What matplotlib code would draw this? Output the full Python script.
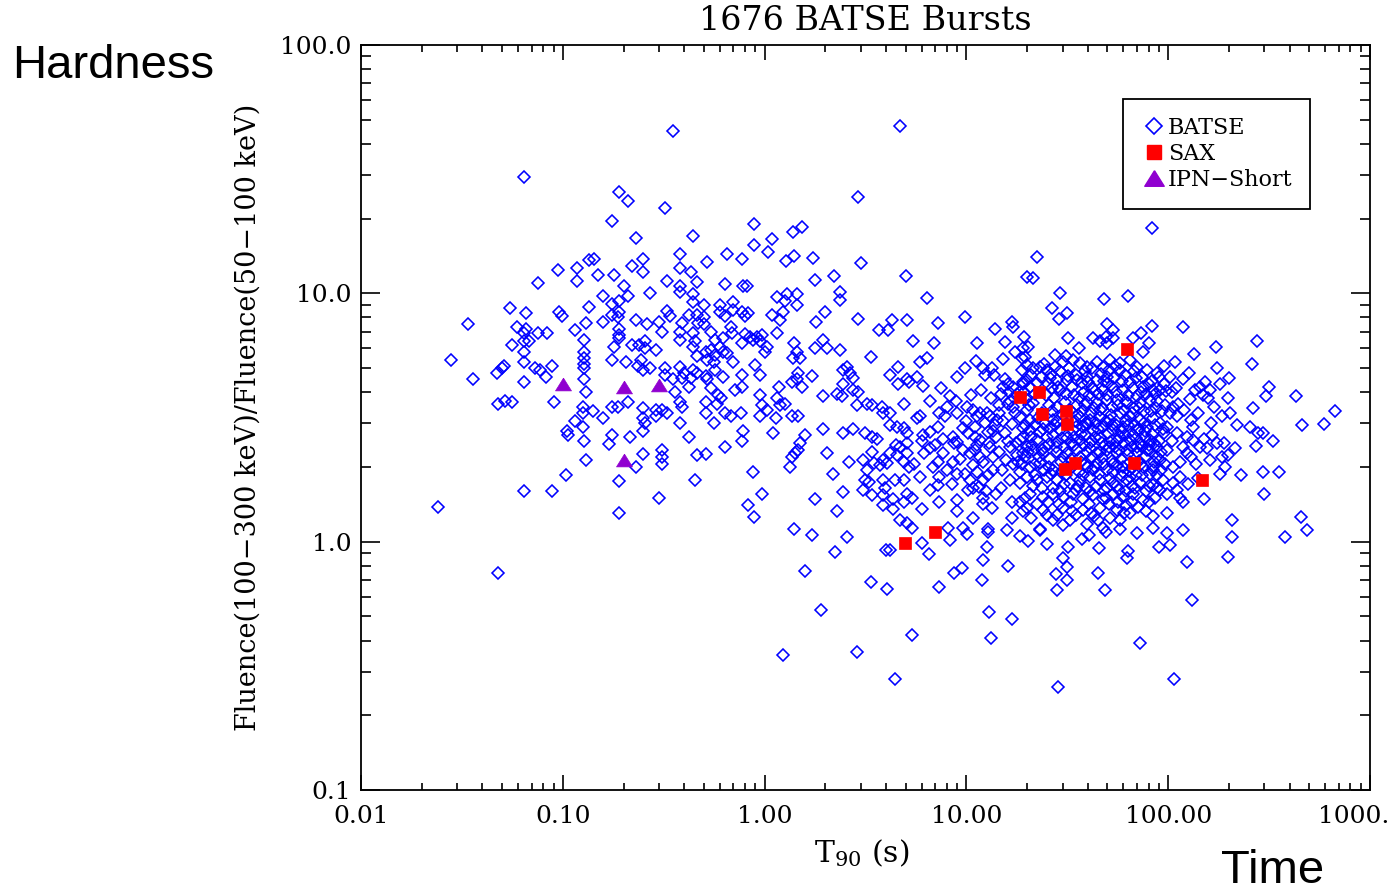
import matplotlib
matplotlib.use("Agg")
import matplotlib.pyplot as plt
from matplotlib.lines import Line2D
from matplotlib.ticker import NullFormatter

# ---------------- data (T90 [s], hardness ratio) ----------------
batse_top = [
    (0.35,45),(0.064,29.5),(0.19,25.6),(0.21,23.5),(0.32,22),(0.175,19.5),(0.23,16.7),(0.44,17),(0.38,14.4),(0.25,13.7),
    (0.135,13.6),(0.143,13.7),(0.095,12.4),(0.118,12.6),(0.22,12.9),(0.38,12.7),(0.25,12.2),(0.43,12.2),(0.15,11.8),(0.18,11.9),
    (0.075,11.0),(0.118,11.2),(0.33,11.2),(0.46,11.1),(0.2,10.7),(0.38,10.7),(4.7,47),(2.9,24.5),(0.89,19),(1.38,17.7),
    (1.53,18.5),(0.89,15.6),(1.09,16.5),(0.65,14.4),(0.77,13.7),(1.04,14.7),(0.52,13.4),(1.28,13.5),(1.40,14.2),(1.74,13.9),
    (3.0,13.2),(0.64,10.9),(0.78,10.7),(0.82,10.7),(1.78,11.3),(2.2,11.7),(5.0,11.7),(20,11.6),(83,18.3),(22.4,14.0),
    (21.4,11.5),
]
batse_short = [
    (0.38,10.1),(0.158,9.8),(0.21,9.8),(0.27,10.0),(0.44,9.9),(0.44,9.2),(0.175,9.1),(0.19,9.3),(0.135,8.8),(0.055,8.7),
    (0.066,8.3),(0.096,8.4),(0.099,8.1),(0.33,8.5),(0.34,8.1),(0.175,8.2),(0.188,8.0),(0.19,8.4),(0.034,7.5),(0.13,7.6),
    (0.158,7.7),(0.23,7.8),(0.26,7.5),(0.30,7.7),(0.39,7.6),(0.42,8.2),(0.059,7.3),(0.066,7.2),(0.064,6.9),(0.075,6.9),
    (0.084,6.9),(0.115,7.1),(0.19,7.2),(0.19,6.8),(0.31,7.0),(0.38,7.0),(0.38,6.5),(0.44,6.9),(0.45,6.4),(0.064,6.4),
    (0.068,6.4),(0.127,6.5),(0.19,6.6),(0.056,6.2),(0.18,6.1),(0.22,6.2),(0.24,6.2),(0.255,6.4),(0.255,6.0),(0.29,5.9),
    (0.44,6.1),(0.46,5.6),(0.064,5.8),(0.127,5.8),(0.127,5.5),(0.127,5.2),(0.127,5.0),(0.028,5.4),(0.175,5.4),(0.205,5.3),
    (0.245,5.4),(0.235,5.1),(0.25,4.9),(0.064,5.3),(0.051,5.1),(0.050,5.0),(0.047,4.8),(0.073,5.0),(0.077,4.9),(0.088,5.1),
    (0.27,5.0),(0.32,5.0),(0.38,5.05),(0.40,4.8),(0.44,4.9),(0.036,4.5),(0.083,4.6),(0.127,4.5),(0.32,4.7),(0.35,4.5),
    (0.39,4.55),(0.43,4.55),(0.064,4.4),(0.13,4.0),(0.36,4.0),(0.42,4.2),(0.048,3.6),(0.052,3.7),(0.056,3.65),(0.090,3.65),
    (0.21,3.65),(0.38,3.65),(0.39,3.5),(0.126,3.5),(0.126,3.3),(0.141,3.35),(0.175,3.5),(0.188,3.5),(0.25,3.45),(0.29,3.4),
    (0.31,3.4),(0.33,3.3),(0.158,3.15),(0.115,3.05),(0.25,3.15),(0.255,3.0),(0.25,2.8),(0.29,3.2),(0.38,3.0),(0.105,2.8),
    (0.106,2.7),(0.126,2.9),(0.175,2.7),(0.215,2.65),(0.42,2.65),(0.127,2.55),(0.17,2.47),(0.31,2.35),(0.31,2.2),(0.31,2.05),
    (0.25,2.25),(0.13,2.13),(0.23,2.0),(0.46,2.23),(0.104,1.85),(0.45,1.78),(0.19,1.75),(0.064,1.6),(0.088,1.6),(0.30,1.5),
    (0.024,1.38),(0.19,1.3),(0.048,0.75),
]
batse_mid = [
    (0.50,9.0),(0.60,9.0),(0.60,8.4),(0.64,8.1),(0.70,9.2),(0.70,8.6),(0.77,8.4),(0.80,8.1),(0.83,8.3),(1.15,9.7),
    (1.29,9.9),(1.26,9.3),(1.45,9.9),(1.45,9.0),(1.09,8.2),(1.23,8.4),(1.19,7.8),(2.37,10.1),(2.37,9.4),(2.0,8.4),
    (1.8,7.7),(2.9,7.9),(4.3,7.8),(5.1,7.8),(6.4,9.6),(7.2,7.6),(9.8,8.0),(16.9,7.7),(17.1,7.3),(13.9,7.2),
    (3.7,7.1),(4.1,7.1),(0.46,8.2),(0.50,8.0),(0.47,7.6),(0.50,7.5),(0.54,7.0),(0.68,7.3),(0.69,6.9),(0.80,6.85),
    (0.85,6.7),(0.92,6.7),(0.97,6.8),(0.95,6.4),(0.62,6.6),(0.57,6.5),(1.15,6.9),(0.77,6.3),(0.88,6.5),(1.03,6.1),
    (1.0,5.8),(0.51,5.8),(0.54,5.9),(0.57,5.65),(0.60,6.1),(0.62,5.8),(0.65,5.75),(1.40,6.3),(1.45,5.8),(1.38,5.5),
    (1.50,5.5),(1.78,6.0),(1.95,6.5),(2.04,6.0),(2.37,5.9),(5.45,6.45),(6.9,6.3),(11.3,6.3),(15.6,6.35),(17.4,5.8),
    (19.1,6.0),(3.37,5.55),(5.9,5.3),(6.4,5.5),(11.2,5.35),(15.2,5.45),(18.9,5.5),(20.0,5.15),(0.46,4.8),(0.52,5.4),
    (0.56,5.3),(0.57,4.9),(0.70,5.3),(0.90,5.15),(0.95,4.7),(0.62,4.6),(0.51,4.65),(0.52,4.5),(0.77,4.7),(1.47,4.8),
    (1.45,4.5),(1.37,4.4),(1.53,4.2),(1.18,4.2),(1.72,4.65),(2.45,4.9),(2.56,5.05),(2.65,4.8),(2.75,4.55),(2.45,4.3),
    (4.2,4.7),(4.6,5.05),(4.6,4.3),(5.1,4.5),(5.2,4.4),(5.7,4.6),(6.1,4.25),(7.5,4.15),(9.0,4.6),(9.8,5.0),
    (12.1,5.0),(12.4,4.7),(13.4,5.0),(13.7,4.7),(15.6,4.5),(16.1,4.3),(17.1,4.2),(19.1,4.4),(15.2,4.2),(0.71,4.1),
    (0.77,4.2),(0.54,4.15),(0.59,3.9),(0.61,3.8),(0.58,3.6),(0.51,3.65),(0.95,3.9),(0.97,3.55),(1.15,3.8),(1.19,3.55),
    (1.26,3.6),(1.03,3.4),(1.95,3.85),(2.29,3.95),(2.43,3.85),(2.75,4.1),(2.9,4.0),(2.86,3.55),(3.2,3.6),(3.4,3.55),
    (4.9,3.6),(6.6,3.7),(8.3,3.85),(8.9,3.7),(8.0,3.5),(3.8,3.5),(3.85,3.3),(4.2,3.3),(5.9,3.2),(5.7,3.15),
    (7.3,3.3),(7.8,3.2),(9.0,3.3),(10.1,3.5),(10.8,3.4),(11.3,3.2),(11.7,3.3),(12.7,3.3),(13.1,3.2),(14.2,3.1),
    (14.5,3.3),(0.51,3.3),(0.56,3.0),(0.64,3.3),(0.68,3.2),(0.76,3.3),(0.95,3.2),(1.14,3.15),(1.37,3.2),(1.47,3.2),
    (1.95,2.85),(0.78,2.8),(1.10,2.75),(0.77,2.55),(0.64,2.4),(0.51,2.25),(2.45,2.75),(2.75,2.85),(3.15,2.75),(3.4,2.65),
    (3.6,2.6),(4.2,2.95),(4.55,2.9),(4.9,2.87),(5.1,2.74),(6.1,2.68),(6.6,2.76),(7.2,2.9),(7.7,2.6),(8.6,2.64),
    (8.7,2.5),(9.6,2.87),(10.2,2.74),(11.0,2.64),(11.7,2.56),(12.8,2.76),(13.5,2.8),(14.1,2.64),(15.6,2.74),(19.1,2.87),
    (18.4,2.56),(20.0,2.4),(1.59,2.7),(1.50,2.5),(1.47,2.33),(1.42,2.27),(1.37,2.19),(1.34,2.0),(2.04,2.27),(2.62,2.1),
    (3.08,2.13),(3.22,1.94),(3.15,1.77),(3.4,2.29),(3.5,2.07),(3.73,2.03),(3.85,2.13),(4.05,2.07),(4.2,2.27),(4.55,2.23),
    (4.7,2.4),(5.1,2.5),(4.9,2.09),(5.1,2.27),(5.2,1.99),(6.2,2.27),(6.6,2.38),(7.2,2.09),(7.0,2.45),(7.7,2.27),
    (8.6,2.09),(9.0,2.52),(9.6,2.33),(10.4,2.27),(11.3,2.45),(11.7,2.19),(12.1,2.09),(10.8,2.03),(13.1,2.4),(13.5,2.19),
    (14.5,2.29),(15.8,2.13),(16.4,2.4),(17.8,2.23),(19.1,2.27),(0.88,1.9),(2.18,1.88),(3.3,1.74),(3.85,1.77),(3.95,1.64),
    (4.45,1.77),(4.9,1.77),(5.9,1.82),(7.3,1.82),(9.0,1.88),(9.85,1.88),(10.4,1.77),(11.3,1.9),(12.1,1.77),(13.5,1.94),
    (14.9,1.65),(16.4,1.77),(18.4,1.72),(0.97,1.56),(2.45,1.59),(3.08,1.61),(3.4,1.54),(3.85,1.54),(4.35,1.49),(4.9,1.44),
    (5.1,1.56),(5.35,1.5),(6.6,1.62),(7.2,1.69),(9.0,1.47),(10.2,1.61),(10.8,1.65),(11.5,1.66),(12.1,1.5),(13.4,1.37),
    (16.9,1.44),(18.4,1.44),(19.1,1.33),(0.83,1.41),(0.89,1.26),(1.78,1.48),(2.29,1.33),(3.85,1.4),(4.35,1.35),(6.0,1.36),
    (7.3,1.44),(9.0,1.33),(10.8,1.25),(12.1,1.42),(4.7,1.22),(5.1,1.19),(5.35,1.14),(8.1,1.14),(9.6,1.14),(12.8,1.12),
    (15.9,1.11),(16.9,1.25),(1.40,1.13),(1.72,1.06),
    (10.5,3.9),(11.8,4.1),(13.2,3.8),(14.8,3.95),(16.5,3.7),(17.8,3.95),(10.0,3.05),(11.0,2.9),(12.3,3.0),(13.9,2.95),
    (15.2,3.05),(16.8,2.98),(17.5,3.3),(16.0,3.6),(18.0,2.1),(15.0,1.95),(12.8,1.85),(11.0,2.35),(9.3,2.15),(8.0,1.95),
    (6.8,2.0),(6.0,2.55),(5.5,2.05),(4.5,2.45),(16.0,2.55),(17.0,2.05),(18.5,1.9),(14.0,1.55),(12.5,1.6),(8.5,1.7),
]
batse_long = [
    (29,10.0),(48,9.5),(63,9.8),(26.6,8.7),(28.8,7.9),(31.6,8.3),(50,7.5),(53,7.1),(49,6.7),(83,7.4),
    (119,7.3),(73,6.9),(67,6.6),(42.5,6.6),(46,6.4),(50,6.3),(53,6.6),(32,6.6),(19.4,6.7),(20.2,6.1),
    (36,6.05),(80,6.3),(75,5.8),(27.5,5.65),(31,5.6),(135,5.7),(173,6.1),(276,6.4),(261,5.2),(175,5.0),
    (200,4.55),(317,4.2),(306,3.85),(431,3.85),(264,3.45),(670,3.35),(460,2.95),(590,2.98),(220,2.95),(255,2.9),
    (279,2.74),(295,2.74),(332,2.54),(273,2.42),(189,2.49),(215,2.38),(185,2.19),(198,2.23),(161,2.13),(192,1.99),
    (181,1.88),(230,1.85),(295,1.9),(355,1.9),(300,1.56),(151,1.48),(456,1.26),(488,1.11),(207,1.22),(207,1.04),
    (380,1.04),(109,4.15),(136,4.1),(144,4.2),(149,3.9),(153,4.4),(161,4.1),(158,3.8),(181,4.3),(198,3.8),
    (169,3.5),(185,3.2),(203,3.3),(163,3.0),(129,3.1),(133,2.9),(102,3.3),(106,3.5),(111,3.2),(99,2.9),
    (111,2.74),(124,2.64),(133,2.56),(144,2.4),(156,2.38),(124,2.27),(115,2.09),(106,1.99),(99,2.33),(91,2.13),
    (84,1.94),(115,1.82),(106,1.72),(94,1.77),(88,1.65),(99,1.56),(115,1.5),(119,1.44),(99,1.3),(84,1.27),
    (78,1.33),(84,1.14),(99,1.08),(70,1.08),(58,1.13),
    (105,4.0),(112,3.6),(120,3.4),(128,3.75),(140,3.3),(104,2.55),(118,2.4),(130,2.2),(138,2.05),(110,1.62),
    (125,1.7),(140,1.8),(150,2.6),(165,2.7),(175,2.5),(102,4.6),(118,4.5),(127,4.8),(95,5.1),(108,5.3),
]
batse_core = [
    (19.6,5.56),(21.4,5.0),(23.2,5.06),(25.1,4.92),(27.5,5.06),(30.2,5.31),(33.8,5.4),(36.6,5.26),(39.7,5.06),(44.5,5.31),
    (47.6,5.06),(51.6,5.4),(57.8,5.26),(64.8,5.4),(70.2,5.06),(78.7,4.92),(88.2,4.79),(57.8,4.92),(49.9,4.61),(44.5,4.48),
    (39.7,4.61),(35.4,4.48),(31.6,4.48),(28.2,4.48),(26.0,4.57),(20.0,4.48),(20.7,4.2),(26.6,4.16),(29.2,4.08),(37.9,3.97),
    (42,4.16),(47.6,4.08),(53.4,4.2),(59.8,4.08),(67.1,4.16),(75.2,4.2),(84.2,4.08),(91.3,4.08),(81.4,3.72),(72.6,3.62),
    (62.6,3.62),(55.9,3.72),(49.9,3.72),(44.5,3.62),(39.7,3.65),(35.4,3.55),(28.2,3.49),(21.4,3.62),(20.0,3.39),(18.5,3.18),
    (20.7,3.09),(26.9,3.09),(36.6,3.18),(41.1,3.09),(46.0,3.18),(51.6,3.09),(57.8,3.30),(64.8,3.18),(72.6,3.09),(84.2,3.15),
    (91.3,3.0),(78.7,2.89),(70.2,2.81),(59.8,2.89),(53.4,2.81),(47.6,2.89),(42.5,2.81),(37.9,2.89),(33.8,2.81),(29.2,2.81),
    (26.0,2.87),(23.2,2.76),(20.7,2.81),(19.1,2.64),(22.4,2.56),(25.1,2.64),(28.2,2.52),(31.6,2.61),(36.6,2.56),(41.1,2.49),
    (46.0,2.61),(51.6,2.52),(57.8,2.64),(64.8,2.56),(72.6,2.49),(81.4,2.56),(88.2,2.40),(78.7,2.33),(70.2,2.29),(62.6,2.33),
    (55.9,2.27),(49.9,2.33),(44.5,2.27),(39.7,2.29),(35.4,2.33),(31.6,2.27),(28.2,2.29),(24.0,2.27),(21.4,2.33),(19.6,2.19),
    (20.7,1.99),(23.2,2.07),(26.9,1.94),(39.7,1.99),(44.5,2.07),(49.9,1.94),(55.9,2.03),(59.8,1.90),(75.2,1.99),(81.4,1.88),
    (20.0,1.82),(22.4,1.77),(25.1,1.82),(28.2,1.77),(32.7,1.72),(36.6,1.77),(41.1,1.82),(46.0,1.77),(53.4,1.72),(62.6,1.77),
    (72.6,1.72),(84.2,1.69),(20.7,1.56),(24.0,1.51),(26.9,1.56),(30.2,1.51),(33.8,1.56),(37.9,1.49),(42.5,1.54),(47.6,1.49),
    (53.4,1.56),(59.8,1.51),(67.1,1.56),(75.2,1.47),(20.0,1.37),(24.0,1.34),(30.2,1.37),(37.9,1.34),(46.0,1.37),(55.9,1.34),
    (64.8,1.30),(26.9,1.22),(32.7,1.22),(39.7,1.18),(47.6,1.14),(23.2,1.13),
    (18.8,4.9),(21.0,4.7),(24.2,5.2),(26.3,4.75),(29.0,4.85),(32.2,5.0),(34.9,4.7),(38.5,4.85),(41.8,5.0),(46.2,4.75),
    (50.8,4.9),(54.6,5.1),(61.0,4.7),(67.5,4.85),(74.0,4.6),(83.0,4.45),(95.0,4.3),(19.2,4.0),(22.5,4.35),(24.8,3.9),
    (27.2,3.8),(31.0,3.95),(33.5,4.2),(36.0,3.8),(40.5,3.9),(45.0,3.95),(50.5,4.35),(55.0,4.0),(63.5,3.9),(70.0,3.85),
    (78.0,3.95),(88.0,3.7),(96.0,3.55),(19.8,3.75),(23.8,3.3),(25.8,3.55),(30.0,3.25),(32.8,3.4),(37.2,3.35),(42.8,3.45),
    (47.0,3.45),(52.8,3.5),(60.5,3.4),(68.0,3.45),(76.0,3.35),(87.0,3.45),(22.0,2.95),(24.6,3.0),(28.0,3.05),(31.4,2.98),
    (34.5,3.05),(39.0,3.0),(44.0,3.0),(49.0,3.05),(55.0,2.95),(62.0,3.05),(68.5,2.95),(75.5,3.0),(95.0,2.75),(21.2,2.45),
    (24.5,2.4),(27.0,2.7),(30.5,2.4),(34.0,2.65),(38.5,2.7),(43.5,2.65),(48.5,2.45),(54.5,2.4),(60.5,2.5),(67.0,2.7),
    (76.5,2.65),(85.5,2.5),(92.0,2.3),(22.8,2.2),(26.0,2.15),(29.5,2.1),(33.0,2.15),(37.0,2.1),(42.0,2.2),(47.2,2.17),
    (52.5,2.12),(58.5,2.15),(65.0,2.1),(72.0,2.12),(85.0,2.1),(18.8,2.05),(24.3,1.95),(29.8,1.92),(33.5,2.0),(36.0,1.9),
    (42.5,1.94),(53.0,1.9),(64.0,1.93),(69.0,1.85),(88.0,1.85),(21.5,1.67),(26.8,1.65),(30.5,1.7),(34.8,1.62),(39.0,1.64),
    (44.0,1.66),(50.0,1.65),(57.0,1.62),(66.0,1.68),(78.0,1.6),(22.3,1.42),(25.5,1.45),(28.8,1.42),(33.0,1.44),(40.5,1.42),
    (51.0,1.42),(62.0,1.4),(71.0,1.38),(28.0,1.28),(35.0,1.28),(43.0,1.27),(51.5,1.25),(58.0,1.22),(30.0,1.17),(21.0,1.25),
]
batse_core_extra = [
    (19.0,4.3),(20.5,3.55),(22.0,3.95),(23.5,4.6),(25.5,4.3),(26.5,3.35),(28.5,4.2),(30.8,3.65),(32.0,4.65),(34.2,3.9),
    (35.8,3.25),(37.5,4.35),(38.8,3.55),(40.0,4.4),(41.5,3.3),(43.2,4.05),(45.8,3.4),(48.2,4.45),(50.0,3.9),(52.0,3.25),
    (54.0,4.55),(56.5,3.55),(58.8,4.45),(61.5,3.7),(64.5,4.4),(66.0,3.3),(69.0,4.55),(71.5,3.45),(73.5,4.0),(80.0,4.3),
    (82.5,3.35),(86.0,3.95),(90.0,4.6),(93.0,3.35),(98.0,4.05),(19.5,2.95),(21.0,2.65),(22.6,3.15),(24.0,2.85),(25.8,2.48),
    (27.5,2.95),(29.8,2.62),(31.0,3.15),(33.0,2.5),(35.0,2.9),(36.8,2.72),(38.2,2.45),(40.2,2.98),(42.0,2.55),(45.0,2.85),
    (47.0,2.5),(50.2,2.75),(52.5,2.95),(56.0,2.55),(58.5,2.8),(61.0,2.68),(63.5,2.95),(66.5,2.4),(69.0,2.62),(71.5,2.85),
    (74.0,2.4),(77.0,2.8),(80.0,2.45),(83.0,2.72),(86.5,2.95),(90.5,2.55),(94.0,2.85),(20.2,2.3),(22.0,2.05),(23.8,2.35),
    (25.8,2.0),(27.8,2.4),(30.0,2.2),(32.0,1.98),(34.2,2.45),(36.5,2.2),(38.8,2.05),(41.0,2.38),(43.5,2.0),(46.0,2.3),
    (48.0,2.05),(51.0,2.4),(53.5,2.05),(57.0,2.35),(60.0,2.0),(63.0,2.25),(66.5,1.98),(70.0,2.4),(73.5,2.05),(77.0,2.2),
    (80.5,2.35),(84.0,2.0),(88.0,2.2),(92.5,1.95),(96.0,2.05),(21.8,1.85),(23.8,1.65),(26.2,1.88),(29.0,1.6),(31.2,1.85),
    (35.8,1.68),(38.0,1.85),(40.8,1.6),(45.2,1.88),(48.2,1.62),(51.5,1.8),(55.5,1.67),(59.0,1.84),(61.5,1.6),(65.0,1.82),
    (68.5,1.64),(74.5,1.85),(80.5,1.68),(91.0,1.62),(25.0,1.28),(33.5,1.33),(41.5,1.3),(49.0,1.5),(56.5,1.45),(66.0,1.44),
    (80.0,1.45),(86.5,1.5),(60.5,1.3),(45.0,1.22),(19.5,1.5),(17.6,2.5),(17.0,3.5),(16.2,4.0),(14.5,3.55),(13.0,2.5),
]
batse_soft = [
    (2.56,1.04),(2.24,0.91),(4.2,0.93),(4.0,0.93),(6.0,0.99),(6.5,0.89),(8.3,1.02),(10.1,1.07),(12.8,1.09),(18.5,1.05),
    (20.2,1.01),(12.7,0.95),(12.1,0.84),(16.1,0.80),(8.7,0.75),(9.5,0.78),(11.9,0.70),(7.3,0.66),(1.59,0.76),(3.37,0.69),
    (4.05,0.645),(1.91,0.53),(12.9,0.52),(16.9,0.49),(5.35,0.42),(13.2,0.41),(1.23,0.35),(2.87,0.36),(4.45,0.28),(23.2,1.11),
    (25.1,0.98),(32,0.955),(30.2,0.86),(31.6,0.79),(27.9,0.74),(31.6,0.70),(28.2,0.64),(37.3,1.03),(40.3,1.06),(49.2,1.09),
    (45.5,0.94),(45,0.75),(48.6,0.64),(63.3,0.92),(62.6,0.86),(90.5,0.95),(102,0.97),(119,1.11),(124,0.83),(131,0.58),
    (198,0.87),(72.6,0.39),(28.4,0.26),(107,0.28),
]

sax_t90 = [18.5, 22.9, 23.7, 31.2, 31.6, 62.7, 30.8, 34.6, 67.8, 147, 4.97, 7.0]
sax_hr = [3.83, 4.01, 3.27, 3.36, 2.98, 5.99, 1.96, 2.07, 2.07, 1.78, 0.99, 1.09]

ipn_t90 = [0.1, 0.2, 0.3, 0.2]
ipn_hr = [4.32, 4.2, 4.28, 2.13]

x_ticks = [0.01, 0.1, 1, 10, 100, 1000]
x_tick_labels = ["0.01", "0.10", "1.00", "10.00", "100.00", "1000.00"]
y_ticks = [0.1, 1, 10, 100]
y_tick_labels = ["0.1", "1.0", "10.0", "100.0"]

# ---------------- figure ----------------
plt.rcParams["font.family"] = ["DejaVu Serif"]
plt.rcParams["mathtext.fontset"] = "dejavuserif"

fig = plt.figure(figsize=(13.91, 8.93), dpi=100)
ax = fig.add_axes([0.2595, 0.1153, 0.7254, 0.8343])
ax.set_xscale("log")
ax.set_yscale("log")
ax.set_xlim(0.01, 1000)
ax.set_ylim(0.1, 100)

batse = (batse_top + batse_short + batse_mid + batse_long + batse_core
         + batse_core_extra + batse_soft)
b_t90 = [p[0] for p in batse]
b_hr = [p[1] for p in batse]

blue = "#0000ff"
red = "#ff0000"
purple = "#9000d0"
tri = [(0, 0.8), (-1, -0.8), (1, -0.8), (0, 0.8)]

ax.plot(b_t90, b_hr, linestyle="none", marker="D", ms=5.8, mfc="none",
        mec=blue, mew=1.15, zorder=2)
ax.plot(sax_t90, sax_hr, linestyle="none", marker="s", ms=8.6, mfc=red,
        mec=red, mew=0.5, zorder=3)
ax.plot(ipn_t90, ipn_hr, linestyle="none", marker=tri, ms=11.5, mfc=purple,
        mec=purple, mew=0.5, zorder=3)

# ticks
ax.set_xticks(x_ticks, labels=x_tick_labels)
ax.set_yticks(y_ticks, labels=y_tick_labels)
ax.xaxis.set_minor_formatter(NullFormatter())
ax.yaxis.set_minor_formatter(NullFormatter())
ax.tick_params(which="both", direction="in", top=True, right=True,
               width=1.2, color="black")
ax.tick_params(axis="x", which="major", length=11, pad=11, labelsize=18)
ax.tick_params(axis="x", which="minor", length=5)
ax.tick_params(axis="y", which="major", length=14, pad=7, labelsize=18)
ax.tick_params(axis="y", which="minor", length=7.5)
for s in ax.spines.values():
    s.set_linewidth(1.3)

ax.set_title("1676 BATSE Bursts", fontsize=24, pad=11)
ax.set_xlabel("T$_{90}$ (s)", fontsize=21.5)
ax.xaxis.set_label_coords(0.496, -0.064)
ax.set_ylabel("Fluence(100\u2212300 keV)/Fluence(50\u2212100 keV)", fontsize=19.5)
ax.yaxis.set_label_coords(-0.098, 0.5)

handles = [
    Line2D([], [], linestyle="none", marker="D", ms=8.0, mfc="none", mec=blue, mew=1.2),
    Line2D([], [], linestyle="none", marker="s", ms=10.5, mfc=red, mec=red),
    Line2D([], [], linestyle="none", marker=tri, ms=14, mfc=purple, mec=purple),
]
leg = ax.legend(handles, ["BATSE", "SAX", "IPN\u2212Short"], loc="upper left",
                bbox_to_anchor=(0.7552, 0.9275), fontsize=16, frameon=True,
                fancybox=False, shadow=False, framealpha=1, edgecolor="black",
                borderpad=0.8, handlelength=1.15, handletextpad=0.08,
                labelspacing=0.19, borderaxespad=0, numpoints=1)
leg.get_frame().set_linewidth(1.3)

fig.text(12 / 1391, 1 - 78 / 893, "Hardness", fontsize=34,
         family="Liberation Sans", va="baseline", ha="left")
fig.text(1221 / 1391, 1 - 883 / 893, "Time", fontsize=34,
         family="Liberation Sans", va="baseline", ha="left")

fig.savefig("out.png", dpi=100)
